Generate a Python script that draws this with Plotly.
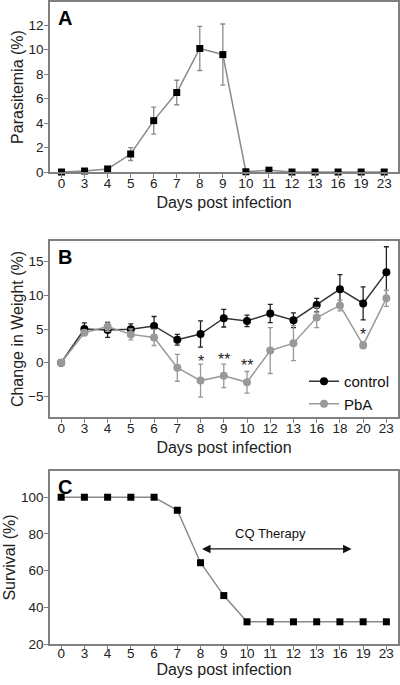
import plotly.graph_objects as go

# ---------------- data ----------------
days_a = ["0", "3", "4", "5", "6", "7", "8", "9", "10", "11", "12", "13", "16", "19", "23"]
parasitemia = [0, 0.08, 0.25, 1.47, 4.2, 6.5, 10.1, 9.6, 0.02, 0.15, 0, 0, 0, 0, 0]
parasitemia_err = [0, 0, 0, 0.53, 1.1, 1.0, 1.8, 2.5, 0, 0, 0, 0, 0, 0, 0]

days_b = ["0", "3", "4", "5", "6", "7", "8", "9", "10", "12", "13", "16", "18", "20", "23"]
control = [0, 5.0, 4.85, 4.95, 5.45, 3.4, 4.25, 6.6, 6.2, 7.3, 6.3, 8.55, 10.9, 8.8, 13.4]
control_err = [0, 0.9, 1.1, 0.8, 1.4, 0.8, 1.95, 1.3, 0.85, 1.35, 1.1, 1.0, 2.15, 2.45, 3.8]
pba = [0, 4.45, 5.35, 4.2, 3.75, -0.75, -2.65, -1.95, -2.9, 1.8, 2.9, 6.7, 8.5, 2.6, 9.55]
pba_err = [0, 0.4, 0.7, 0.8, 1.2, 2.0, 2.45, 1.75, 1.6, 3.4, 2.6, 1.5, 0.8, 0.5, 1.2]
sig_days = ["8", "9", "10", "20"]
sig_marks = ["*", "**", "**", "*"]
sig_y = [1.0, 1.3, 0.55, 5.1]

days_c = ["0", "3", "4", "5", "6", "7", "8", "9", "10", "11", "12", "13", "16", "19", "23"]
survival = [100, 100, 100, 100, 100, 92.9, 64.3, 46.4, 32.1, 32.1, 32.1, 32.1, 32.1, 32.1, 32.1]
therapy_start = "8"
therapy_end_between = ("16", "19")
therapy_y = 71.8
therapy_label = "CQ Therapy"

# ---------------- styling ----------------
FONT = "Liberation Sans, Arial, sans-serif"
FRAME = "#808080"
GRAY_LINE = "#8a8a8a"
PBA_GRAY = "#999999"
W, H = 400, 685

def ydom(top_px, bot_px):
    return [(H - bot_px) / H, (H - top_px) / H]

fig = go.Figure()

idx_a = list(range(len(days_a)))
idx_b = list(range(len(days_b)))
idx_c = list(range(len(days_c)))

# Panel A
fig.add_trace(go.Scatter(
    x=idx_a, y=parasitemia, mode="lines+markers",
    line=dict(color=GRAY_LINE, width=1.5),
    marker=dict(symbol="square", size=7, color="black"),
    error_y=dict(type="data", array=parasitemia_err, color=GRAY_LINE, thickness=1.3, width=2.5),
    cliponaxis=False, showlegend=False, xaxis="x", yaxis="y"))

# Panel B
fig.add_trace(go.Scatter(
    x=idx_b, y=control, mode="lines+markers", name="control",
    line=dict(color="#333333", width=1.5),
    marker=dict(symbol="circle", size=8, color="black"),
    error_y=dict(type="data", array=control_err, color="#222222", thickness=1.3, width=2.5),
    cliponaxis=False, xaxis="x2", yaxis="y2"))
fig.add_trace(go.Scatter(
    x=idx_b, y=pba, mode="lines+markers", name="PbA",
    line=dict(color=PBA_GRAY, width=1.5),
    marker=dict(symbol="circle", size=8, color=PBA_GRAY),
    error_y=dict(type="data", array=pba_err, color=PBA_GRAY, thickness=1.3, width=2.5),
    cliponaxis=False, xaxis="x2", yaxis="y2"))
for d, m, y in zip(sig_days, sig_marks, sig_y):
    fig.add_annotation(x=days_b.index(d), y=y, xref="x2", yref="y2", text=m, showarrow=False,
                       yshift=-6, font=dict(size=16, color="#222222", family=FONT))

# Panel C
fig.add_trace(go.Scatter(
    x=idx_c, y=survival, mode="lines+markers",
    line=dict(color=GRAY_LINE, width=1.5),
    marker=dict(symbol="square", size=7, color="black"),
    cliponaxis=False, showlegend=False, xaxis="x3", yaxis="y3"))

x_start = days_c.index(therapy_start)
x_end = (days_c.index(therapy_end_between[0]) + days_c.index(therapy_end_between[1])) / 2
fig.add_annotation(x=x_end, y=therapy_y, ax=x_start, ay=therapy_y,
                   xref="x3", yref="y3", axref="x3", ayref="y3",
                   showarrow=True, arrowhead=2, startarrowhead=2, arrowside="end+start",
                   arrowsize=1.3, startarrowsize=1.3, arrowwidth=1.3, arrowcolor="#111111", text="")
fig.add_annotation(x=(x_start + x_end) / 2 - 0.25, y=80, xref="x3", yref="y3", text=therapy_label,
                   showarrow=False, font=dict(size=13, color="#111111", family=FONT))

# panel letters
for letter, top in [("A", 2), ("B", 241), ("C", 471)]:
    fig.add_annotation(x=56 / W, y=(H - top - 3) / H, xref="paper", yref="paper",
                       xanchor="left", yanchor="top", text="<b>%s</b>" % letter, showarrow=False,
                       font=dict(size=20, color="black", family=FONT))

def xaxis(days, rng, anchor, lab_off, title_off):
    return dict(domain=[50 / W, 398 / W], range=rng, anchor=anchor,
                tickmode="array", tickvals=list(range(len(days))), ticktext=days,
                showline=True, linecolor=FRAME, linewidth=1.5, mirror=True,
                ticks="outside", ticklen=4, tickcolor=FRAME, tickwidth=1.2,
                ticklabelstandoff=lab_off,
                tickfont=dict(size=13.5, color="#222222", family=FONT),
                showgrid=False, zeroline=False, automargin=False,
                title=dict(text="Days post infection", standoff=title_off,
                           font=dict(size=16, color="#222222", family=FONT)))

def yaxis(dom, rng, dtick, title, anchor):
    return dict(domain=dom, range=rng, anchor=anchor, dtick=dtick, tick0=0,
                showline=True, linecolor=FRAME, linewidth=1.5, mirror=True,
                ticks="outside", ticklen=4, tickcolor=FRAME, tickwidth=1.2,
                ticklabelstandoff=-2,
                tickfont=dict(size=13.5, color="#222222", family=FONT),
                showgrid=False, zeroline=False, automargin=False,
                title=dict(text=title, standoff=1, font=dict(size=16, color="#222222", family=FONT)))

fig.update_layout(
    width=W, height=H,
    margin=dict(l=0, r=0, t=0, b=0),
    paper_bgcolor="white", plot_bgcolor="white",
    font=dict(family=FONT),
    xaxis=xaxis(days_a, [-0.5, 14.6], "y", -6, 7),
    yaxis=yaxis(ydom(2, 172), [0, 13.9], 2, "Parasitemia (%)", "x"),
    xaxis2=xaxis(days_b, [-0.48, 14.5], "y2", -6, 7),
    yaxis2=yaxis(ydom(241, 417), [-8.05, 18.05], 5, "Change in Weight (%)", "x2"),
    xaxis3=xaxis(days_c, [-0.48, 14.5], "y3", -8, 0),
    yaxis3=yaxis(ydom(471, 644), [20, 114.3], 20, "Survival (%)", "x3"),
    legend=dict(x=304 / W, y=(H - 365) / H, xanchor="left", yanchor="top",
                bgcolor="rgba(0,0,0,0)", font=dict(size=15, color="#111111", family=FONT),
                itemwidth=30),
    showlegend=True,
)

fig.write_html("out.html", config={"displayModeBar": False},
               post_script="document.body.style.margin='0px';")
